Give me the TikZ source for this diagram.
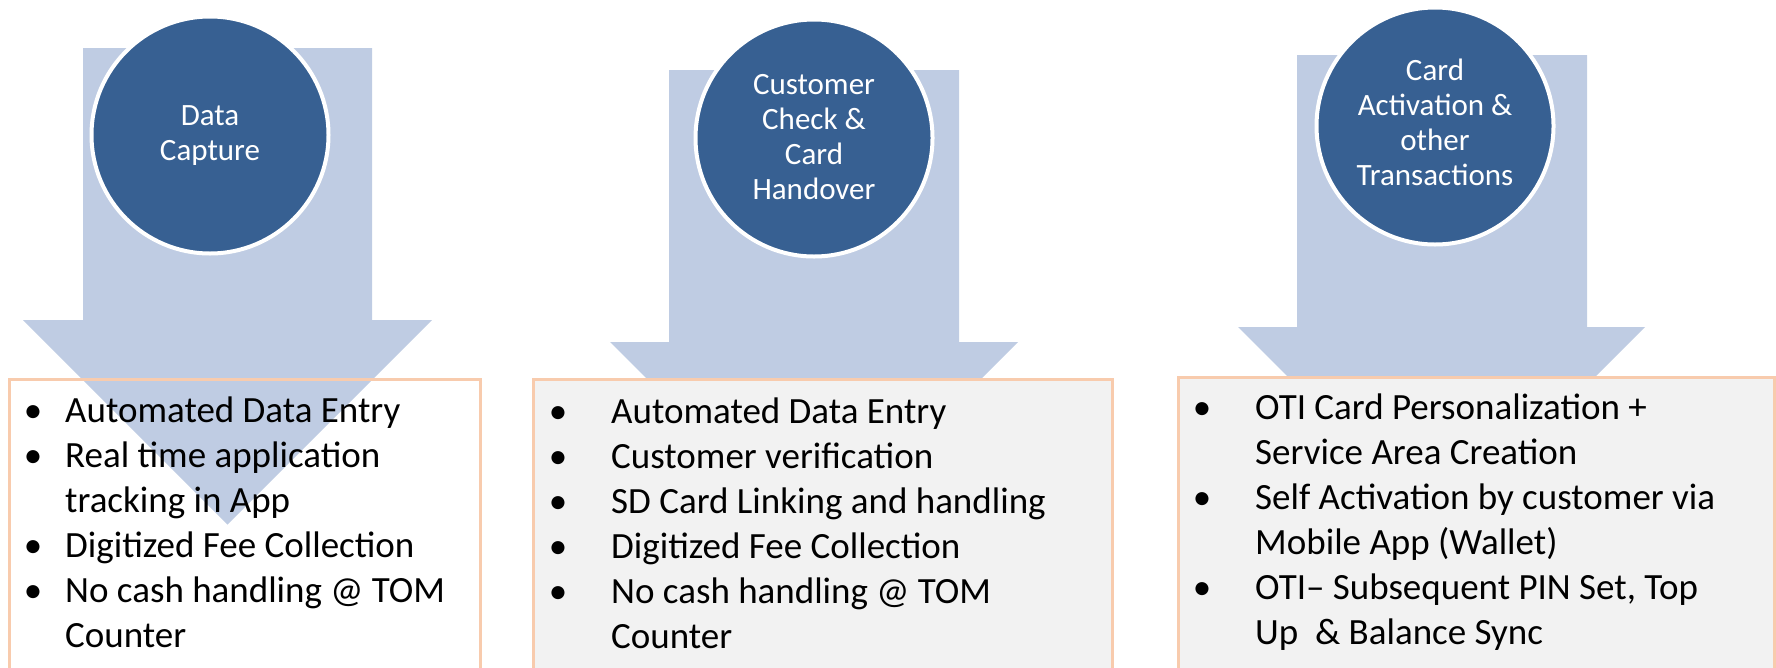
\documentclass[tikz,border=0pt]{standalone}
\usepackage{fontspec}
\setmainfont{Carlito}
\definecolor{discblue}{HTML}{376092}
\definecolor{arrowblue}{HTML}{BFCCE3}
\definecolor{panelpeach}{HTML}{F8CBAD}
\definecolor{panelgrey}{HTML}{F2F2F2}
\begin{document}
\begin{tikzpicture}[x=1pt,y=-1pt,
  flowarrow/.style={fill=arrowblue},
  disc/.style={circle, fill=discblue, draw=white, line width=4pt,
    minimum size=237pt, inner sep=0pt},
  disctext/.style={text=white, align=center, inner sep=0pt,
    font=\fontsize{31}{35}\selectfont},
  panel/.style={draw=panelpeach, line width=3pt},
  itemtext/.style={anchor=base west, inner sep=0pt,
    font=\fontsize{37}{45}\selectfont},
  itemdot/.style={anchor=base, inner sep=0pt,
    font=\fontsize{37}{45}\selectfont}]

\useasboundingbox (0,0) rectangle (1776,667);
\clip (0,0) rectangle (1776,667);

% broad down arrows behind each stage
\fill[flowarrow] (83,48) -- (372,48) -- (372,320) -- (432,320)
  -- (227.5,524.5) -- (23,320) -- (83,320) -- cycle;
\fill[flowarrow] (669,70) -- (959,70) -- (959,342) -- (1018,342)
  -- (814,546) -- (610,342) -- (669,342) -- cycle;
\fill[flowarrow] (1297,55) -- (1587,55) -- (1587,327) -- (1645,327)
  -- (1441.5,530.5) -- (1238,327) -- (1297,327) -- cycle;

% stage discs
\node[disc] (c1) at (210,135) {};
\node[disc] (c2) at (814,138) {};
\node[disc] (c3) at (1435,126) {};
\node[disctext] (t1) at (210,135.5) {Data\\Capture};
\node[disctext] (t2) at (814,137) {Customer\\Check \&\\Card\\Handover};
\node[disctext] (t3) at (1435,122) {Card\\Activation \&\\other\\Transactions};

% detail panels
\draw[panel] (9.5,379.5) rectangle (480,720);
\draw[panel, fill=panelgrey] (533,379.5) rectangle (1112,720);
\draw[panel, fill=panelgrey] (1178,377) rectangle (1774.5,720);

% panel 1
\node[itemdot] (d1a) at (33,422) {•};
\node[itemtext] (p1a) at (65,422) {Automated Data Entry};
\node[itemdot] (d1b) at (33,467) {•};
\node[itemtext] (p1b) at (65,467) {Real time application};
\node[itemtext] (p1c) at (65,512) {tracking in App};
\node[itemdot] (d1d) at (33,557) {•};
\node[itemtext] (p1d) at (65,557) {Digitized Fee Collection};
\node[itemdot] (d1e) at (33,602) {•};
\node[itemtext] (p1e) at (65,602) {No cash handling @ TOM};
\node[itemtext] (p1f) at (65,647) {Counter};

% panel 2
\node[itemdot] (d2a) at (558,423) {•};
\node[itemtext] (p2a) at (611,423) {Automated Data Entry};
\node[itemdot] (d2b) at (558,468) {•};
\node[itemtext] (p2b) at (611,468) {Customer verification};
\node[itemdot] (d2c) at (558,513) {•};
\node[itemtext] (p2c) at (611,513) {SD Card Linking and handling};
\node[itemdot] (d2d) at (558,558) {•};
\node[itemtext] (p2d) at (611,558) {Digitized Fee Collection};
\node[itemdot] (d2e) at (558,603) {•};
\node[itemtext] (p2e) at (611,603) {No cash handling @ TOM};
\node[itemtext] (p2f) at (611,648) {Counter};

% panel 3
\node[itemdot] (d3a) at (1202,419) {•};
\node[itemtext] (p3a) at (1255,419) {OTI Card Personalization +};
\node[itemtext] (p3b) at (1255,464) {Service Area Creation};
\node[itemdot] (d3c) at (1202,509) {•};
\node[itemtext] (p3c) at (1255,509) {Self Activation by customer via};
\node[itemtext] (p3d) at (1255,554) {Mobile App (Wallet)};
\node[itemdot] (d3e) at (1202,599) {•};
\node[itemtext] (p3e) at (1255,599) {OTI– Subsequent PIN Set, Top};
\node[itemtext] (p3f) at (1255,644) {Up\ \ \& Balance Sync};
\end{tikzpicture}
\end{document}
